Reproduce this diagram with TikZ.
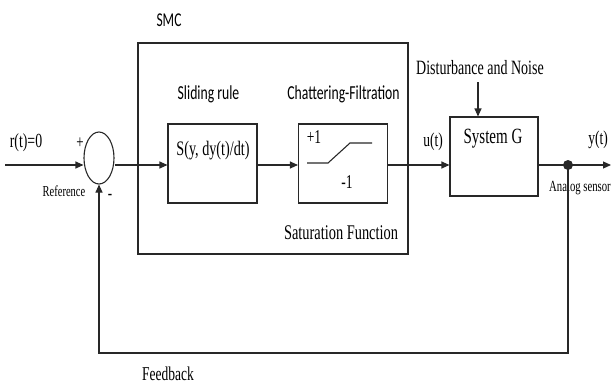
\documentclass[tikz,border=0pt]{standalone}
\usepackage{graphicx}
\usepackage{fontspec}
\setmainfont{Liberation Serif}
\newfontfamily\calib{Carlito}
\usetikzlibrary{arrows.meta,shapes.geometric}
\definecolor{ln}{RGB}{40,40,40}
% tall, narrow lettering used throughout the diagram
\newcommand\tl[1]{\scalebox{1}[1.45]{#1}}
\newcommand\fs[1]{\fontsize{#1}{#1}\selectfont}
\begin{document}
\begin{tikzpicture}[x=1pt,y=-1pt,line width=1.1pt,
  every node/.style={inner sep=0pt,text=black},
  blk/.style={draw=ln,minimum width=89pt,minimum height=79pt},
  sig/.style={draw=ln,-{Triangle[length=8pt,width=7pt]}},
  wire/.style={draw=ln}]
\useasboundingbox (0,0) rectangle (614,386);

% controller frame and blocks
\node[draw=ln,minimum width=270pt,minimum height=211pt] (smc) at (273,148.5) {};
\node[blk] (slide) at (212.5,163.5) {};
\node[blk] (sat) at (343,163.5) {};
\node[blk,minimum width=88pt] (sysg) at (494,156.5) {};
\node[draw=ln,ellipse,minimum width=30pt,minimum height=52pt] (sum) at (99,158) {};
\node[circle,fill=ln,minimum size=10pt] (snsr) at (568,165) {};

% block texts
\node[font=\fs{14.2}] (sltxt) at (213,151) {\tl{S(y, dy(t)/dt)}};
\node[font=\fs{13.5}] (p1) at (314,137) {\tl{+1}};
\node[font=\fs{13.5}] (m1) at (347,182) {\tl{-1}};
\node[font=\fs{15}] (gtxt) at (493,139) {\tl{System G}};

% saturation characteristic
\draw[wire] (307,163) -- (328,163) -- (350,143) -- (372,143);

% labels
\node[font=\fs{13.8}] (rlab) at (26,143) {\tl{r(t)=0}};
\node[font=\fs{13}] (plus) at (80,143) {\tl{+}};
\node[font=\fs{13}] (minus) at (110,197) {\tl{-}};
\node[font=\fs{10.5}] (reflab) at (64,191) {\tl{Reference}};
\node[font=\calib\fs{13.5}] (smclab) at (169,20) {\tl{SMC}};
\node[font=\calib\fs{13.7}] (slidelab) at (208.5,94) {\tl{Sliding rule}};
\node[font=\calib\fs{13.7}] (chatlab) at (343.5,94) {\tl{Chattering-Filtration}};
\node[font=\fs{14.4}] (satlab) at (341,233) {\tl{Saturation Function}};
\node[font=\fs{13.5}] (ulab) at (433,142) {\tl{u(t)}};
\node[font=\fs{14}] (distlab) at (480,68) {\tl{Disturbance and Noise}};
\node[font=\fs{13.5}] (ylab) at (598,140) {\tl{y(t)}};
\node[font=\fs{10.7}] (senslab) at (580,188) {\tl{Analog sensor}};
\node[font=\fs{13.5}] (fblab) at (168,374) {\tl{Feedback}};

% signal paths
\coordinate (in) at (5,165);
\coordinate (out) at (611,165);
\coordinate (dist) at (478,82);
\coordinate (fb) at (568,353);
\draw[sig] (in) -- (in -| sum.west);
\draw[sig] (sum.east |- in) -- (slide.west |- in);
\draw[sig] (slide.east |- in) -- (sat.west |- in);
\draw[sig] (sat.east |- in) -- (sysg.west |- in);
\draw[wire] (sysg.east |- in) -- (snsr.center);
\draw[sig] (snsr.center) -- (out);
\draw[sig] (dist) -- (dist |- sysg.north);
\draw[sig] (snsr.center) -- (fb) -| (sum.south);
\end{tikzpicture}
\end{document}
